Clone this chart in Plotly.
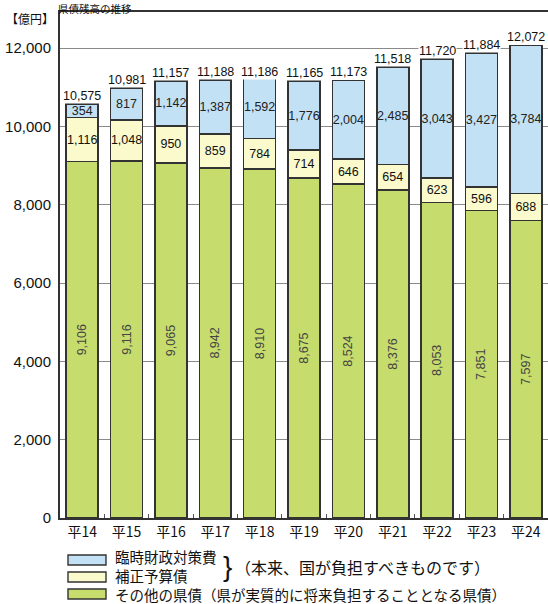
import plotly.graph_objects as go

categories = ["平14", "平15", "平16", "平17", "平18", "平19", "平20", "平21", "平22", "平23", "平24"]
other_bonds = [9106, 9116, 9065, 8942, 8910, 8675, 8524, 8376, 8053, 7851, 7597]
supplementary = [1116, 1048, 950, 859, 784, 714, 646, 654, 623, 596, 688]
temp_finance = [354, 817, 1142, 1387, 1592, 1776, 2004, 2485, 3043, 3427, 3784]
totals = [10575, 10981, 11157, 11188, 11186, 11165, 11173, 11518, 11720, 11884, 12072]
y_ticks = [0, 2000, 4000, 6000, 8000, 10000, 12000]
y_tick_labels = ["0", "2,000", "4,000", "6,000", "8,000", "10,000", "12,000"]
series_names = ["その他の県債（県が実質的に将来負担することとなる県債）", "補正予算債", "臨時財政対策費"]

GREEN = "#c6dc6c"
YELLOW = "#fafacd"
BLUE = "#c3e1f5"
EDGE = "#333333"
NUM_FONT = "Liberation Sans, Arial, Noto Sans CJK JP"
JP_FONT = "Noto Sans CJK JP, Liberation Sans"

W, H = 548, 604
ML, MR, MT, MB = 60, 0, 12, 86
PW, PH = W - ML - MR, H - MT - MB


def fmt(v):
    return f"{v:,}"


def px(xp):
    return (xp - ML) / PW


def py(yp):
    return 1 - (yp - MT) / PH


fig = go.Figure()
for vals, color, name, angle, tcol in [
    (other_bonds, GREEN, series_names[0], -90, "#444444"),
    (supplementary, YELLOW, series_names[1], 0, "#111111"),
    (temp_finance, BLUE, series_names[2], 0, "#222222"),
]:
    fig.add_trace(go.Bar(
        x=categories, y=vals, name=name,
        marker=dict(color=color, line=dict(color=EDGE, width=1.6)),
        text=[fmt(v) for v in vals], textposition="inside",
        insidetextanchor="middle", textangle=angle,
        constraintext="none",
        textfont=dict(family=NUM_FONT, size=12.5, color=tcol),
        showlegend=False,
    ))

annotations = []
for c, t in zip(categories, totals):
    annotations.append(dict(
        x=c, y=t, xref="x", yref="y", text=fmt(t), showarrow=False,
        yanchor="bottom", yshift=0, bgcolor="white", borderpad=0,
        font=dict(family=NUM_FONT, size=12.5, color="#111111"),
    ))

# unit label
annotations.append(dict(x=px(4), y=py(18), xref="paper", yref="paper", text="【億円】",
                        showarrow=False, xanchor="left", yanchor="middle",
                        font=dict(family=JP_FONT, size=12, color="#111111")))
# title (shown small so it stays inside the picture)
annotations.append(dict(x=px(57), y=py(0), xref="paper", yref="paper", text="県債残高の推移",
                        showarrow=False, xanchor="left", yanchor="top", borderpad=0,
                        font=dict(family=JP_FONT, size=10.5, color="#111111")))

# custom legend
shapes = []
legend_rows = [(BLUE, series_names[2], 560, 556), (YELLOW, series_names[1], 577, 575), (GREEN, series_names[0], 594, 594)]
for color, name, box_y, text_y in legend_rows:
    shapes.append(dict(type="rect", xref="paper", yref="paper",
                       x0=px(68), x1=px(106), y0=py(box_y - 5), y1=py(box_y + 5),
                       fillcolor=color, line=dict(color=EDGE, width=1.4)))
    annotations.append(dict(x=px(114), y=py(text_y), xref="paper", yref="paper", text=name,
                            showarrow=False, xanchor="left", yanchor="middle", borderpad=0,
                            font=dict(family=JP_FONT, size=14.5, color="#111111")))
annotations.append(dict(x=px(222), y=py(566), xref="paper", yref="paper", text="}",
                        showarrow=False, xanchor="left", yanchor="middle", borderpad=0,
                        font=dict(family="Liberation Sans", size=28, color="#111111")))
annotations.append(dict(x=px(234), y=py(567), xref="paper", yref="paper", text="（本来、国が負担すべきものです）",
                        showarrow=False, xanchor="left", yanchor="middle", borderpad=0,
                        font=dict(family=JP_FONT, size=16, color="#111111")))

fig.update_layout(
    width=W, height=H,
    margin=dict(l=ML, r=MR, t=MT, b=MB, pad=0),
    barmode="stack", bargap=0.28,
    plot_bgcolor="white", paper_bgcolor="white",
    annotations=annotations, shapes=shapes,
    showlegend=False,
    font=dict(family=NUM_FONT, color="#111111"),
)
fig.update_xaxes(
    showline=True, linecolor="#333333", linewidth=1.6, mirror=True,
    ticks="inside", tickson="boundaries", ticklen=4, tickcolor="#555555",
    showgrid=False,
    tickfont=dict(family=JP_FONT, size=14, color="#111111"),
)
fig.update_yaxes(
    range=[0, 12920], tickvals=y_ticks, ticktext=y_tick_labels,
    showline=True, linecolor="#333333", linewidth=2,
    showgrid=True, gridcolor="#8a8a8a", gridwidth=1.4,
    zeroline=False, ticks="", ticklabelstandoff=4,
    tickfont=dict(family=NUM_FONT, size=15, color="#111111"),
)

fig.write_html("out.html")
